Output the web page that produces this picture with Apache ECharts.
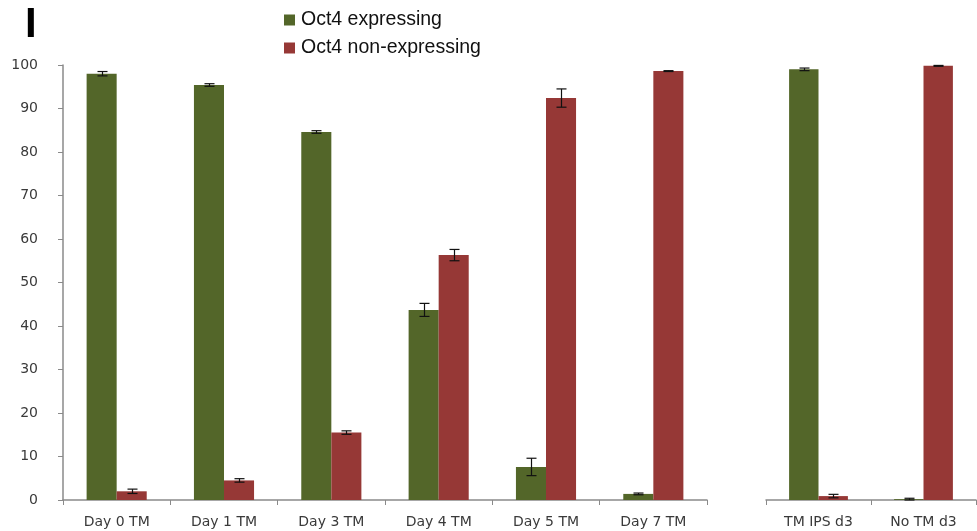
<!DOCTYPE html>
<html>
<head>
<meta charset="utf-8">
<script src="https://cdn.jsdelivr.net/npm/echarts@6/dist/echarts.min.js"></script>
<style>
  html, body { margin: 0; padding: 0; background: #fff; }
  #chart { width: 977px; height: 531px; }
</style>
</head>
<body>
<div id="chart"></div>
<script>
// Time course groups (left panel) and control groups (right panel)
const timeCategories = ['Day 0 TM', 'Day 1 TM', 'Day 3 TM', 'Day 4 TM', 'Day 5 TM', 'Day 7 TM'];
const controlCategories = ['TM IPS d3', 'No TM d3'];

// Percent of cells, Oct4 expressing
const expressingTime = [98.0, 95.4, 84.6, 43.7, 7.6, 1.4];
const expressingTimeErr = [0.5, 0.3, 0.3, 1.5, 2.0, 0.2];
const expressingControl = [99.0, 0.2];
const expressingControlErr = [0.3, 0.2];

// Percent of cells, Oct4 non-expressing
const nonExpressingTime = [2.0, 4.5, 15.5, 56.3, 92.4, 98.6];
const nonExpressingTimeErr = [0.5, 0.4, 0.4, 1.3, 2.1, 0.1];
const nonExpressingControl = [0.9, 99.8];
const nonExpressingControlErr = [0.4, 0.1];

const yTicks = { min: 0, max: 100, interval: 10 };

const GREEN = '#536629';
const RED = '#963836';
const AXIS = '#8a8a8a';
const LABEL = '#3a3a3a';
const CAT_GAP = 0.44;           // share of each category left empty
const HALF_OFFSET = (1 - CAT_GAP) / 4; // bar centre offset, as fraction of band

function errorRows(values, errs) {
  return values.map((v, i) => [i, v - errs[i], v + errs[i]]);
}

function errorRenderer(sign) {
  return function (params, api) {
    const idx = api.value(0);
    const band = api.size([1, 0])[0];
    const x = Math.round(api.coord([idx, 0])[0] + sign * band * HALF_OFFSET) + 0.5;
    const yLo = api.coord([idx, api.value(1)])[1];
    const yHi = api.coord([idx, api.value(2)])[1];
    const cap = 5;
    const style = { stroke: '#111', lineWidth: 1.2 };
    return {
      type: 'group',
      children: [
        { type: 'line', shape: { x1: x, y1: yLo, x2: x, y2: yHi }, style },
        { type: 'line', shape: { x1: x - cap, y1: yHi, x2: x + cap, y2: yHi }, style },
        { type: 'line', shape: { x1: x - cap, y1: yLo, x2: x + cap, y2: yLo }, style }
      ]
    };
  };
}

function barSeries(name, data, color, axisIdx) {
  return {
    name, type: 'bar', data,
    xAxisIndex: axisIdx, yAxisIndex: axisIdx,
    barGap: 0, barCategoryGap: (CAT_GAP * 100) + '%',
    itemStyle: { color },
    emphasis: { disabled: true },
    animation: false
  };
}

function errSeries(rows, sign, axisIdx) {
  return {
    type: 'custom', data: rows,
    xAxisIndex: axisIdx, yAxisIndex: axisIdx,
    renderItem: errorRenderer(sign),
    encode: { x: 0, y: [1, 2] },
    z: 5, silent: true, animation: false
  };
}

const xAxisCommon = {
  type: 'category',
  axisLine: { lineStyle: { color: AXIS, width: 1.5 } },
  axisTick: { show: true, length: 5, lineStyle: { color: AXIS } },
  axisLabel: { color: LABEL, fontSize: 14, fontFamily: 'DejaVu Sans', margin: 15 }
};

const chart = echarts.init(document.getElementById('chart'), null, { renderer: 'canvas' });
chart.setOption({
  backgroundColor: '#fff',
  animation: false,
  graphic: [{
    type: 'text', left: 25, top: 4,
    style: { text: 'I', fontSize: 42, fontWeight: 'bold', fontFamily: 'Liberation Sans', fill: '#000' }
  }],
  legend: {
    orient: 'vertical', left: 279, top: 5,
    itemWidth: 11, itemHeight: 11, itemGap: 8,
    icon: 'rect',
    data: ['Oct4 expressing', 'Oct4 non-expressing'],
    textStyle: { color: '#111', fontSize: 19.5, fontFamily: 'Liberation Sans', padding: [0, 0, 0, 1] }
  },
  grid: [
    { left: 63, right: 270, top: 65, bottom: 31 },
    { left: 766, right: 1, top: 65, bottom: 31 }
  ],
  xAxis: [
    Object.assign({ gridIndex: 0, data: timeCategories }, xAxisCommon),
    Object.assign({ gridIndex: 1, data: controlCategories }, xAxisCommon)
  ],
  yAxis: [
    {
      type: 'value', gridIndex: 0, min: yTicks.min, max: yTicks.max, interval: yTicks.interval,
      axisLine: { show: true, lineStyle: { color: AXIS, width: 1.5 } },
      axisTick: { show: true, length: 5, lineStyle: { color: AXIS } },
      splitLine: { show: false },
      axisLabel: { color: LABEL, fontSize: 14, fontFamily: 'DejaVu Sans', margin: 25 }
    },
    {
      type: 'value', gridIndex: 1, min: yTicks.min, max: yTicks.max, interval: yTicks.interval,
      show: false, splitLine: { show: false }
    }
  ],
  series: [
    barSeries('Oct4 expressing', expressingTime, GREEN, 0),
    barSeries('Oct4 non-expressing', nonExpressingTime, RED, 0),
    barSeries('Oct4 expressing', expressingControl, GREEN, 1),
    barSeries('Oct4 non-expressing', nonExpressingControl, RED, 1),
    errSeries(errorRows(expressingTime, expressingTimeErr), -1, 0),
    errSeries(errorRows(nonExpressingTime, nonExpressingTimeErr), 1, 0),
    errSeries(errorRows(expressingControl, expressingControlErr), -1, 1),
    errSeries(errorRows(nonExpressingControl, nonExpressingControlErr), 1, 1)
  ]
});
</script>
</body>
</html>
